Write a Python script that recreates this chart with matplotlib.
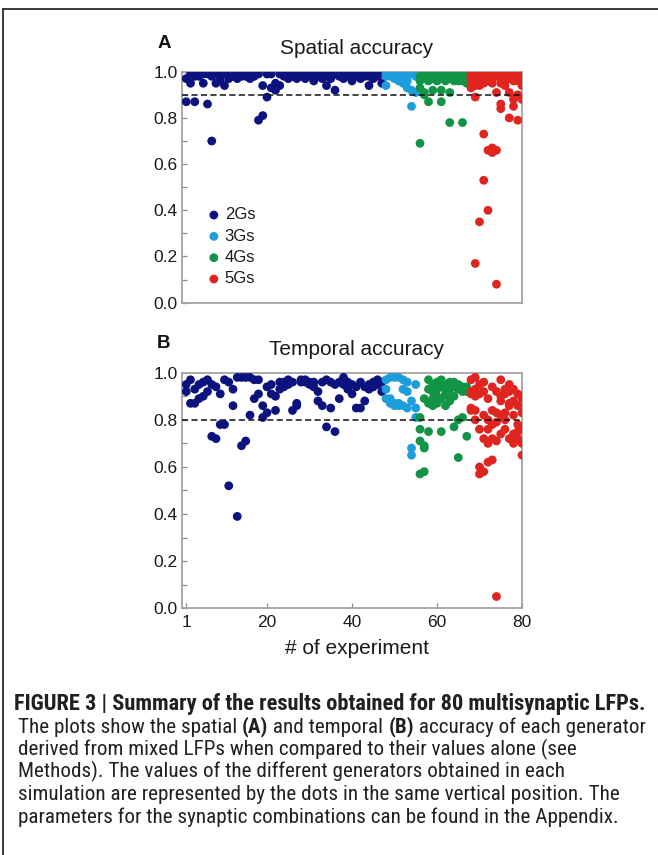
import matplotlib
matplotlib.use("Agg")
import matplotlib.pyplot as plt
from matplotlib import font_manager
from matplotlib.lines import Line2D
import numpy as np

# ---------------- data ----------------
groups = ["2Gs", "3Gs", "4Gs", "5Gs"]
colors = ["#0c137f", "#1e9ddb", "#119446", "#e0241f"]

exp_2g = list(range(1, 48))
exp_3g = list(range(48, 56))
exp_4g = list(range(56, 68))
exp_5g = list(range(68, 81))

spatial_2g = [
    [0.97, 0.87], [0.99, 0.95], [0.98, 0.87], [0.99, 0.98], [0.99, 0.95],
    [0.99, 0.86], [0.98, 0.70], [0.99, 0.95], [0.98, 0.96], [0.99, 0.94],
    [0.98, 0.97], [0.99, 0.98], [0.99, 0.97], [1.00, 0.98], [0.99, 0.98],
    [0.98, 0.97], [0.99, 0.98], [0.99, 0.79], [0.81, 0.94], [0.89, 0.99],
    [0.99, 0.93], [0.92, 0.95], [0.94, 0.99], [0.99, 0.98], [0.99, 0.97],
    [0.98, 0.99], [0.99, 0.97], [0.98, 0.99], [0.99, 0.97], [0.98, 0.99],
    [0.99, 0.96], [0.98, 0.99], [0.97, 0.99], [0.94, 0.98], [0.99, 0.97],
    [0.92, 0.99], [0.98, 0.99], [0.99, 0.97], [0.98, 0.99], [0.99, 0.96],
    [0.98, 0.99], [0.99, 0.97], [0.98, 0.99], [0.94, 0.98], [0.99, 0.97],
    [0.98, 0.99], [0.95, 0.99],
]
spatial_3g = [
    [0.99, 0.98, 0.94], [0.99, 0.99, 0.98], [1.00, 0.99, 0.97], [0.99, 0.98, 0.96],
    [0.99, 0.97, 0.95], [0.99, 0.96, 0.93], [0.99, 0.92, 0.85], [0.98, 0.91, 0.99],
]
spatial_4g = [
    [0.98, 0.96, 0.93, 0.69], [0.99, 0.97, 0.91, 0.90], [0.98, 0.96, 0.87, 0.99],
    [0.99, 0.97, 0.92, 0.98], [0.98, 0.99, 0.96, 0.97], [0.99, 0.97, 0.92, 0.87],
    [0.98, 0.99, 0.96, 0.97], [0.99, 0.97, 0.91, 0.78], [0.98, 0.99, 0.96, 0.97],
    [0.99, 0.97, 0.98, 0.96], [0.98, 0.99, 0.96, 0.78], [0.99, 0.97, 0.95, 0.98],
]
spatial_5g = [
    [0.99, 0.97, 0.95, 0.93, 0.98], [0.99, 0.94, 0.89, 0.17, 0.97],
    [0.98, 0.96, 0.94, 0.35, 0.99], [0.99, 0.95, 0.73, 0.53, 0.97],
    [0.98, 0.96, 0.40, 0.66, 0.99], [0.99, 0.97, 0.67, 0.65, 0.95],
    [0.98, 0.91, 0.66, 0.08, 0.99], [0.99, 0.97, 0.86, 0.84, 0.95],
    [0.98, 0.96, 0.94, 0.99, 0.97], [0.99, 0.91, 0.80, 0.97, 0.98],
    [0.98, 0.88, 0.85, 0.97, 0.96], [0.99, 0.90, 0.79, 0.96, 0.97],
    [0.98, 0.88, 0.96, 0.97, 0.94],
]

temporal_2g = [
    [0.95, 0.92], [0.97, 0.87], [0.93, 0.87], [0.95, 0.89], [0.96, 0.90],
    [0.97, 0.92], [0.95, 0.73], [0.94, 0.72], [0.91, 0.78], [0.97, 0.78],
    [0.96, 0.52], [0.93, 0.86], [0.98, 0.39], [0.98, 0.69], [0.98, 0.71],
    [0.98, 0.82], [0.97, 0.89], [0.91, 0.97], [0.81, 0.86], [0.94, 0.83],
    [0.95, 0.91], [0.84, 0.90], [0.96, 0.93], [0.96, 0.94], [0.97, 0.95],
    [0.96, 0.84], [0.86, 0.87], [0.97, 0.96], [0.97, 0.96], [0.96, 0.95],
    [0.96, 0.94], [0.92, 0.88], [0.86, 0.96], [0.97, 0.77], [0.96, 0.85],
    [0.95, 0.75], [0.96, 0.89], [0.98, 0.95], [0.96, 0.93], [0.95, 0.91],
    [0.94, 0.85], [0.96, 0.85], [0.94, 0.88], [0.95, 0.93], [0.96, 0.94],
    [0.97, 0.95], [0.96, 0.92],
]
temporal_3g = [
    [0.97, 0.93, 0.89], [0.98, 0.89, 0.87], [0.98, 0.87, 0.86], [0.98, 0.87, 0.86],
    [0.97, 0.86, 0.93], [0.96, 0.85, 0.92], [0.88, 0.68, 0.65], [0.95, 0.85, 0.81],
]
temporal_4g = [
    [0.81, 0.76, 0.71, 0.57], [0.89, 0.69, 0.68, 0.58], [0.97, 0.93, 0.87, 0.75],
    [0.95, 0.92, 0.89, 0.86], [0.96, 0.93, 0.87, 0.90], [0.97, 0.94, 0.89, 0.75],
    [0.95, 0.91, 0.86, 0.93], [0.96, 0.93, 0.88, 0.89], [0.96, 0.94, 0.90, 0.77],
    [0.95, 0.93, 0.80, 0.64], [0.94, 0.92, 0.81, 0.93], [0.94, 0.93, 0.73, 0.92],
]
temporal_5g = [
    [0.97, 0.91, 0.85, 0.92, 0.84], [0.98, 0.93, 0.84, 0.80, 0.90],
    [0.95, 0.91, 0.76, 0.57, 0.60], [0.96, 0.92, 0.82, 0.72, 0.58],
    [0.89, 0.80, 0.76, 0.70, 0.62], [0.94, 0.84, 0.78, 0.72, 0.63],
    [0.92, 0.83, 0.79, 0.71, 0.05], [0.97, 0.90, 0.88, 0.82, 0.74],
    [0.93, 0.91, 0.80, 0.76, 0.83], [0.92, 0.86, 0.72, 0.87, 0.95],
    [0.93, 0.88, 0.74, 0.70, 0.82], [0.91, 0.86, 0.78, 0.72, 0.75],
    [0.89, 0.83, 0.76, 0.70, 0.65],
]

thresholds = [0.9, 0.8]
xticks = [1, 20, 40, 60, 80]
titles = ["Spatial accuracy", "Temporal accuracy"]
panel_letters = ["A", "B"]
xlabel = "# of experiment"
caption_title = "FIGURE 3 | Summary of the results obtained for 80 multisynaptic LFPs."
caption_body = [
    [("The plots show the spatial ", False), ("(A)", True), (" and temporal ", False),
     ("(B)", True), (" accuracy of each generator", False)],
    [("derived from mixed LFPs when compared to their values alone (see", False)],
    [("Methods). The values of the different generators obtained in each", False)],
    [("simulation are represented by the dots in the same vertical position. The", False)],
    [("parameters for the synaptic combinations can be found in the Appendix.", False)],
]

# ---------------- fonts ----------------
names = {f.name for f in font_manager.fontManager.ttflist}
base_font = "Liberation Sans" if "Liberation Sans" in names else "DejaVu Sans"
narrow_font = base_font
for cand in ["Liberation Sans Narrow", "Roboto Condensed", "Open Sans Condensed",
             "DejaVu Sans Condensed"]:
    if cand in names:
        narrow_font = cand
        break
plt.rcParams["font.family"] = [base_font, "DejaVu Sans"]

W, H = 658, 855
fig = plt.figure(figsize=(W / 100, H / 100), dpi=100)
fig.patch.set_facecolor("white")


def fx(px):
    return px / W


def fy(py):
    return 1 - py / H


# frame lines around figure
fig.add_artist(Line2D([fx(3), 1.0], [fy(9), fy(9)], color="#2a2a2a", lw=1.3,
                      transform=fig.transFigure))
fig.add_artist(Line2D([fx(3), fx(3)], [fy(9), 0.0], color="#2a2a2a", lw=1.3,
                      transform=fig.transFigure))

axA = fig.add_axes([fx(182), fy(302.7), fx(340), 231 / H])
axB = fig.add_axes([fx(182), fy(608.3), fx(340), 235.6 / H])

spatial = [spatial_2g, spatial_3g, spatial_4g, spatial_5g]
temporal = [temporal_2g, temporal_3g, temporal_4g, temporal_5g]
exps = [exp_2g, exp_3g, exp_4g, exp_5g]

for ax, data, thr in [(axA, spatial, thresholds[0]), (axB, temporal, thresholds[1])]:
    for g, (name, col, ex, vals) in enumerate(zip(groups, colors, exps, data)):
        xs = [e for e, row in zip(ex, vals) for _ in row]
        ys = [v for row in vals for v in row]
        ax.scatter(xs, ys, s=40, color=col, edgecolors="none", label=name, zorder=3)
    ax.axhline(thr, color="#111111", lw=1.1, ls=(0, (4, 2.2)), zorder=4)
    ax.set_xlim(0, 80)
    ax.set_ylim(0, 1.0)
    ax.set_yticks(np.round(np.arange(0, 1.01, 0.1), 1))
    ax.set_yticklabels([f"{t:.1f}" if i % 2 == 0 else "" for i, t in
                        enumerate(np.arange(0, 1.01, 0.1))])
    for sp in ax.spines.values():
        sp.set_color("#a3a3a3")
        sp.set_linewidth(1.3)
    ax.tick_params(axis="y", direction="in", length=3.5, width=0.9, color="#8a8a8a",
                   labelsize=12.5, labelcolor="#1a1a1a", pad=3)

axA.set_xticks([])
axB.set_xticks(xticks)
axB.tick_params(axis="x", direction="in", length=3.5, width=0.9, color="#8a8a8a",
                labelsize=12.5, labelcolor="#1a1a1a", pad=5)

leg = axA.legend(loc="upper left", bbox_to_anchor=(0.03, 0.463), frameon=False,
                 fontsize=12, handletextpad=0.05, labelspacing=0.38,
                 handlelength=1.2, borderpad=0.2, markerscale=1.0)
for t in leg.get_texts():
    t.set_color("#1a1a1a")

fig.text(fx(357), fy(48), titles[0], fontsize=15, ha="center", va="center", color="#1a1a1a")
fig.text(fx(357), fy(349), titles[1], fontsize=15, ha="center", va="center", color="#1a1a1a")
fig.text(fx(164), fy(43), panel_letters[0], fontsize=13.5, fontweight="bold", ha="center",
         va="center", color="#111111")
fig.text(fx(163), fy(343), panel_letters[1], fontsize=13.5, fontweight="bold", ha="center",
         va="center", color="#111111")
fig.text(fx(357), fy(648), xlabel, fontsize=15, ha="center", va="center", color="#1a1a1a")

# ---------------- caption ----------------
fig.canvas.draw()
renderer = fig.canvas.get_renderer()


def text_width(s, fs, bold):
    t = fig.text(0, 0, s, fontsize=fs, family=[narrow_font, "DejaVu Sans"],
                 fontweight="bold" if bold else "normal")
    w = t.get_window_extent(renderer).width
    t.remove()
    return w


# fit sizes to the widths in the reference
fs_t = 12.0 * 633 / text_width(caption_title, 12.0, True)
line2 = "".join(s for s, _ in caption_body[0])
fs_b = 12.0 * 625 / text_width(line2, 12.0, False)

fig.text(fx(14), fy(710), caption_title, fontsize=fs_t, fontweight="bold",
         family=[narrow_font, "DejaVu Sans"], color="#231f20", va="baseline")

baselines = [732.5, 755, 777.5, 800, 822.5]
for segs, by in zip(caption_body, baselines):
    x = 18.0
    for s, b in segs:
        fig.text(fx(x), fy(by), s, fontsize=fs_b, fontweight="bold" if b else "normal",
                 family=[narrow_font, "DejaVu Sans"], color="#231f20", va="baseline")
        x += text_width(s, fs_b, b)

fig.savefig("out.png", dpi=100, facecolor="white")
